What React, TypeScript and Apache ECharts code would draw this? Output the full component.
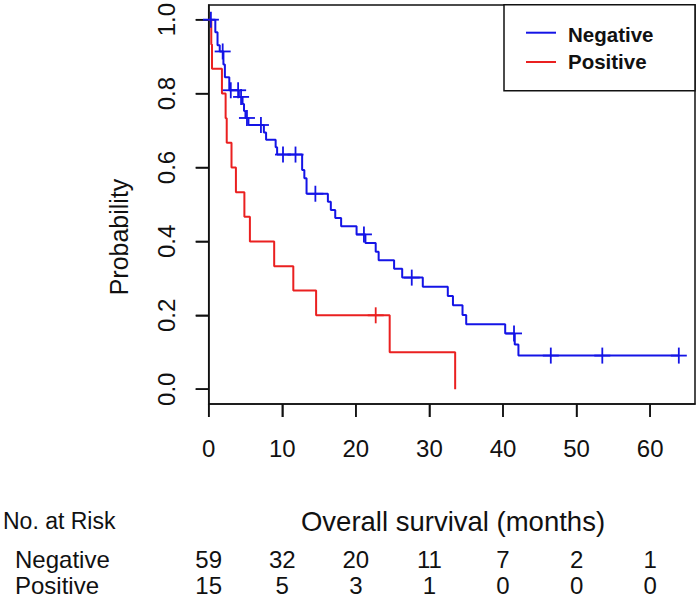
import React, { useEffect, useRef } from "react";
import * as echarts from "echarts";

const xTicks = [0, 10, 20, 30, 40, 50, 60];
const yTicks = [0, 0.2, 0.4, 0.6, 0.8, 1.0];

const negTimes = [0, 0.9, 1.2, 1.5, 2.0, 2.2, 2.8, 4.1, 4.6, 4.8, 5.0, 5.4, 7.5, 7.8, 9.1, 9.3, 12.7, 13.0, 13.3, 16.2, 16.6, 17.2, 18.0, 20.1, 21.3, 22.7, 23.1, 25.2, 26.3, 29.1, 32.5, 33.2, 34.5, 35.0, 40.3, 41.6, 42.1, 63.9];
const negSurv = [1.0, 0.966, 0.931, 0.914, 0.879, 0.844, 0.809, 0.791, 0.772, 0.753, 0.734, 0.715, 0.695, 0.675, 0.655, 0.635, 0.593, 0.571, 0.529, 0.507, 0.485, 0.463, 0.441, 0.419, 0.396, 0.372, 0.349, 0.326, 0.302, 0.277, 0.252, 0.227, 0.201, 0.176, 0.151, 0.121, 0.091, 0.091];
const negCensor = [0.3, 1.9, 3.0, 4.0, 4.4, 5.2, 7.1, 10.1, 11.8, 14.5, 21.1, 27.6, 41.5, 46.5, 53.5, 63.9];

const posTimes = [0, 0.35, 0.45, 1.8, 2.3, 2.45, 3.1, 3.7, 4.85, 5.6, 8.9, 11.5, 14.6, 24.6, 33.5];
const posSurv = [1.0, 0.933, 0.867, 0.8, 0.733, 0.667, 0.6, 0.533, 0.467, 0.4, 0.333, 0.267, 0.2, 0.1, 0.0];
const posCensor = [22.7];

const riskTimes = [0, 10, 20, 30, 40, 50, 60];
const negRisk = [59, 32, 20, 11, 7, 2, 1];
const posRisk = [15, 5, 3, 1, 0, 0, 0];

const groupNames = ["Negative", "Positive"];

const BLUE = "#1414e6";
const RED = "#ea2020";
const INK = "#111111";
const FONT = "'Liberation Sans', Arial, sans-serif";

function stepAt(times: number[], surv: number[], t: number) {
  let s = surv[0];
  for (let i = 0; i < times.length; i++) {
    if (times[i] <= t) s = surv[i];
  }
  return s;
}

function censorSeries(name: string, times: number[], surv: number[], cens: number[], color: string) {
  return {
    name: name + " censored",
    type: "custom",
    data: cens.map((c) => [c, stepAt(times, surv, c)]),
    renderItem: (_p: any, api: any) => {
      const p = api.coord([api.value(0), api.value(1)]);
      const h = 8;
      return {
        type: "group",
        children: [
          { type: "line", shape: { x1: p[0] - h, y1: p[1], x2: p[0] + h, y2: p[1] }, style: { stroke: color, lineWidth: 1.8 } },
          { type: "line", shape: { x1: p[0], y1: p[1] - h, x2: p[0], y2: p[1] + h }, style: { stroke: color, lineWidth: 1.8 } },
        ],
      };
    },
    z: 3,
  };
}

export default function App() {
  const ref = useRef<HTMLDivElement>(null);
  useEffect(() => {
    if (!ref.current) return;
    const chart = echarts.init(ref.current, undefined, { renderer: "svg" });
    chart.setOption({
      animation: false,
      grid: { left: 208.7, top: 4.7, right: 5, bottom: 200, show: true, borderColor: INK, borderWidth: 1.5, backgroundColor: "transparent" },
      xAxis: {
        type: "value",
        min: 0,
        max: 66.1,
        splitLine: { show: false },
        axisLine: { show: true, onZero: false, lineStyle: { color: INK, width: 1.5 } },
        axisTick: { show: true, length: 13, lineStyle: { color: INK, width: 1.5 }, customValues: xTicks },
        axisLabel: { customValues: xTicks, fontSize: 24, color: INK, margin: 32, fontFamily: FONT },
      },
      yAxis: {
        type: "value",
        min: -0.04,
        max: 1.04,
        splitLine: { show: false },
        axisLine: { show: true, onZero: false, lineStyle: { color: INK, width: 1.5 } },
        axisTick: { show: true, length: 13, lineStyle: { color: INK, width: 1.5 }, customValues: yTicks },
        axisLabel: { customValues: yTicks, fontSize: 24, color: INK, margin: 30, rotate: 90, fontFamily: FONT, formatter: (v: number) => v.toFixed(1) },
      },
      series: [
        {
          name: groupNames[0],
          type: "line",
          step: "end",
          showSymbol: false,
          symbol: "none",
          lineStyle: { color: BLUE, width: 2 },
          data: negTimes.map((t, i) => [t, negSurv[i]]),
          z: 2,
        },
        {
          name: groupNames[1],
          type: "line",
          step: "end",
          showSymbol: false,
          symbol: "none",
          lineStyle: { color: RED, width: 2 },
          data: posTimes.map((t, i) => [t, posSurv[i]]),
          z: 2,
        },
        censorSeries(groupNames[0], negTimes, negSurv, negCensor, BLUE),
        censorSeries(groupNames[1], posTimes, posSurv, posCensor, RED),
      ],
    });

    const px = (t: number) => chart.convertToPixel({ xAxisIndex: 0 }, t) as number;
    const py = (v: number) => chart.convertToPixel({ yAxisIndex: 0 }, v) as number;
    const txt = (text: string, x: number, y: number, size: number, align: string) => ({
      type: "text",
      x,
      y,
      style: { text, fontSize: size, fontFamily: FONT, fill: INK, align, verticalAlign: "middle" },
    });

    const x0 = px(0);
    const yBottom = py(-0.04);
    const graphics: any[] = [
      { type: "rect", shape: { x: 504, y: 4.7, width: 191, height: 86 }, style: { fill: "#ffffff", stroke: INK, lineWidth: 1.5 }, z: 10 },
      { type: "line", shape: { x1: 526, y1: 32.7, x2: 556, y2: 32.7 }, style: { stroke: BLUE, lineWidth: 2 }, z: 11 },
      { type: "line", shape: { x1: 526, y1: 62, x2: 556, y2: 62 }, style: { stroke: RED, lineWidth: 2 }, z: 11 },
      { type: "text", x: 568, y: 34, z: 11, style: { text: groupNames[0], fontSize: 20.5, fontWeight: "bold", fontFamily: FONT, fill: INK, align: "left", verticalAlign: "middle" } },
      { type: "text", x: 568, y: 61, z: 11, style: { text: groupNames[1], fontSize: 20.5, fontWeight: "bold", fontFamily: FONT, fill: INK, align: "left", verticalAlign: "middle" } },
      { type: "text", x: 119, y: 237, rotation: Math.PI / 2, style: { text: "Probability", fontSize: 25, fontFamily: FONT, fill: INK, align: "center", verticalAlign: "middle" } },
      txt("Overall survival (months)", 453, 521, 27.5, "center"),
      txt("No. at Risk", 3, 521, 23, "left"),
      txt(groupNames[0], 15, 559, 24, "left"),
      txt(groupNames[1], 15, 585, 24, "left"),
    ];
    xTicks.forEach((t) => {
      const x = px(t);
      graphics.push({ type: "line", shape: { x1: x, y1: yBottom, x2: x, y2: yBottom + 13 }, style: { stroke: INK, lineWidth: 1.5 } });
    });
    yTicks.forEach((v) => {
      const y = py(v);
      graphics.push({ type: "line", shape: { x1: x0 - 13, y1: y, x2: x0, y2: y }, style: { stroke: INK, lineWidth: 1.5 } });
    });
    riskTimes.forEach((t, i) => {
      graphics.push(txt(String(negRisk[i]), px(t), 559, 24, "center"));
      graphics.push(txt(String(posRisk[i]), px(t), 585, 24, "center"));
    });
    chart.setOption({ graphic: graphics });

    return () => chart.dispose();
  }, []);
  return <div ref={ref} style={{ position: "absolute", left: 0, top: 0, width: 700, height: 604, background: "#ffffff" }} />;
}
